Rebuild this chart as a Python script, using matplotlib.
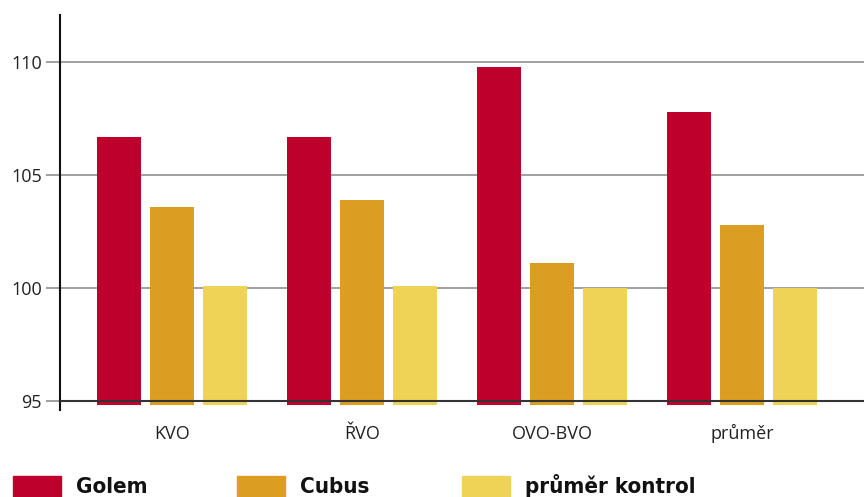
import matplotlib.pyplot as plt
import numpy as np
from matplotlib.patches import Rectangle

# data
categories = ['KVO', 'ŘVO', 'OVO-BVO', 'průměr']
golem = [106.7, 106.7, 109.8, 107.8]
cubus = [103.6, 103.9, 101.1, 102.8]
kontrol = [100.1, 100.1, 100.0, 100.0]
series_names = ['Golem', 'Cubus', 'průměr kontrol']
colors = ['#BE002D', '#DB9E23', '#EED357']
y_ticks = [95, 100, 105, 110]

base = 94.8
fig = plt.figure(figsize=(8.64, 4.97), dpi=100)
ax = fig.add_axes([60 / 864, 1 - 410 / 497, 1 - 60 / 864, (410 - 15) / 497])

x = np.arange(len(categories))
w = 44 / 190
step = 53 / 190
for i, (vals, c) in enumerate(zip([golem, cubus, kontrol], colors)):
    heights = [v - base for v in vals]
    ax.bar(x + (i - 1) * step, heights, w, bottom=base, color=c, zorder=2)

ax.set_ylim(94.6, 112.1)
ax.set_xlim(-0.59, 3.64)
ax.set_yticks(y_ticks)
ax.set_yticklabels([str(t) for t in y_ticks], fontsize=13, family='Open Sans', color='#222222')
ax.set_xticks(x)
ax.set_xticklabels(categories, fontsize=13, family='Open Sans', color='#222222', va='baseline')
ax.tick_params(axis='x', length=0, pad=21)
ax.tick_params(axis='y', length=10, width=1.3, color='#999999', pad=3)

for t in y_ticks[1:]:
    ax.axhline(t, color='#999999', lw=1.3, zorder=1)
ax.axhline(95, color='#333333', lw=1.5, zorder=3)

for s in ['top', 'right', 'bottom']:
    ax.spines[s].set_visible(False)
ax.spines['left'].set_linewidth(1.5)
ax.spines['left'].set_color('#111111')

# legend, drawn by hand
leg_x = [13, 237, 462]
for lx, name, c in zip(leg_x, series_names, colors):
    fig.patches.append(Rectangle((lx / 864, 0), 48 / 864, 21 / 497,
                                 transform=fig.transFigure, color=c))
    fig.text((lx + 63) / 864, 1 - 493 / 497, name, fontsize=16, family='DejaVu Sans',
             stretch='condensed', weight='bold', color='#111111', va='baseline')

fig.savefig('out.png', dpi=100)
